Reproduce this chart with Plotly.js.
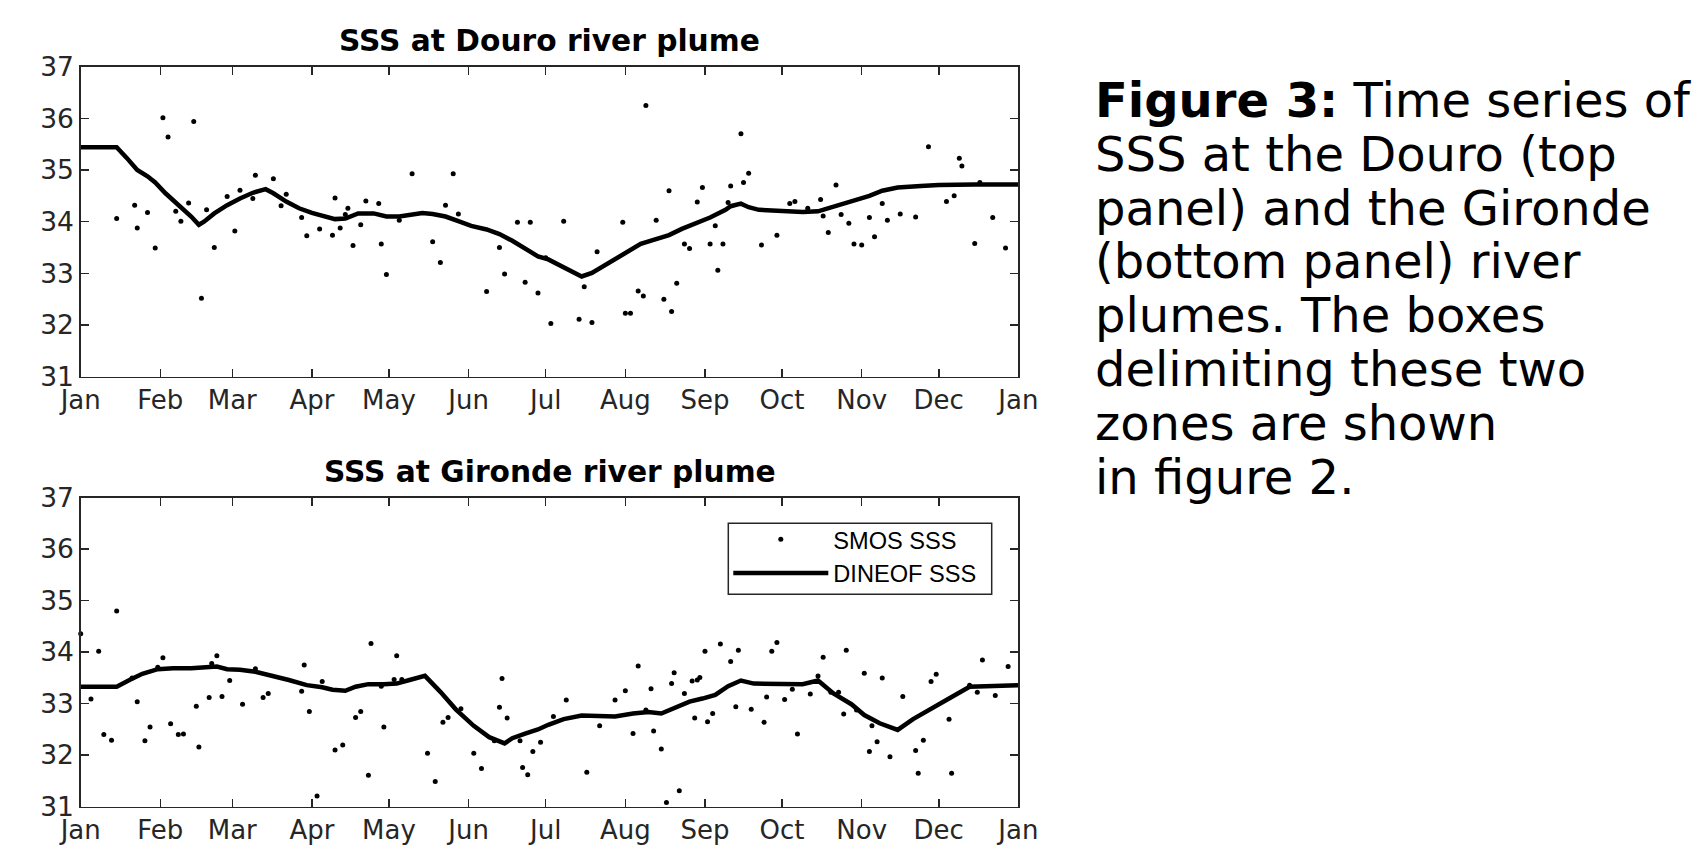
<!DOCTYPE html>
<html>
<head>
<meta charset="utf-8">
<script src="https://cdn.plot.ly/plotly-3.0.1.min.js"></script>
<style>html,body{margin:0;padding:0;background:#fff;}#chart{width:1696px;height:846px;}</style>
</head>
<body>
<div id="chart"></div>
<script>
// ---- Data (day of year, salinity) ----
const monthLabels = ['Jan','Feb','Mar','Apr','May','Jun','Jul','Aug','Sep','Oct','Nov','Dec','Jan'];

// Douro river plume – SMOS SSS (scatter)
const douroSmosDays = [14,21,22,26,29,32,34,37,39,42,44,47,49,52,57,60,62,67,68,75,
  78,80,86,88,93,98,99,101,103,104,106,109,111,116,117,119,124,129,137,140,
  142,145,147,158,163,165,170,173,175,178,181,183,188,194,196,199,201,211,212,214,
  217,219,220,224,227,229,230,232,235,237,240,242,245,247,248,250,252,253,257,258,
  260,265,271,276,278,283,288,289,291,294,296,299,301,304,307,309,312,314,319,325,
  330,337,340,342,343,348,350,355,360];
const douroSmosSSS = [34.06,34.32,33.88,34.18,33.49,36.01,35.64,34.20,34.01,34.36,
  35.94,32.52,34.23,33.50,34.49,33.82,34.61,34.45,34.90,34.83,
  34.31,34.53,34.08,33.73,33.86,33.74,34.46,33.88,34.14,34.26,
  33.54,33.94,34.40,34.35,33.57,32.98,34.03,34.93,33.61,33.21,
  34.32,34.93,34.15,32.65,33.50,32.99,33.99,32.83,33.99,32.62,
  33.30,32.03,34.01,32.11,32.74,32.05,33.42,33.99,32.23,32.23,
  32.66,32.56,36.25,34.03,32.50,34.60,32.26,32.81,33.57,33.48,
  34.38,34.66,33.57,33.92,33.06,33.57,34.37,34.69,35.70,34.76,
  34.94,33.55,33.74,34.35,34.39,34.26,34.43,34.11,33.79,34.71,
  34.14,33.97,33.57,33.55,34.08,33.71,34.35,34.03,34.15,34.09,
  35.45,34.39,34.50,35.23,35.08,33.58,34.76,34.08,33.49];

// Douro river plume – DINEOF SSS (line)
const douroDineofDays = [0,14,18,22,26,29,33,39,43,46,48,52,57,62,67,72,75,80,85,90,
  96,99,103,108,114,119,124,129,133,137,142,147,152,158,163,168,173,178,182,188,
  195,199,204,210,214,218,223,229,234,240,245,251,253,257,260,264,272,281,287,293,
  300,307,312,318,327,334,348,365];
const douroDineofSSS = [35.44,35.44,35.23,35.00,34.88,34.76,34.55,34.29,34.10,33.94,
  34.00,34.16,34.32,34.45,34.56,34.63,34.55,34.39,34.26,34.17,
  34.08,34.05,34.06,34.16,34.16,34.10,34.10,34.15,34.17,34.15,
  34.10,34.01,33.92,33.85,33.76,33.63,33.48,33.33,33.27,33.12,
  32.94,33.01,33.16,33.32,33.45,33.57,33.65,33.74,33.86,33.97,
  34.08,34.23,34.30,34.35,34.28,34.23,34.21,34.19,34.20,34.29,
  34.38,34.50,34.60,34.66,34.69,34.71,34.72,34.72];

// Gironde river plume – SMOS SSS (scatter)
const girondeSmosDays = [0,4,7,9,12,14,20,22,25,27,30,32,35,38,40,45,46,50,51,53,
  55,58,63,68,71,73,86,87,89,92,94,99,102,107,109,112,113,117,118,122,
  123,125,135,138,141,143,148,153,156,161,163,164,166,171,172,174,176,179,184,
  189,197,202,208,212,215,217,220,222,223,226,228,230,231,233,235,238,239,240,241,
  243,244,246,249,253,255,256,261,266,267,269,271,274,277,279,284,287,289,292,295,
  297,298,302,305,307,308,310,312,315,320,325,326,328,331,333,338,339,346,349,351,
  356,361];
const girondeSmosSSS = [34.36,33.09,34.02,32.40,32.29,34.80,33.50,33.04,32.28,32.55,
  33.71,33.89,32.61,32.40,32.41,32.95,32.16,33.12,33.78,33.93,
  33.14,33.45,32.99,33.68,33.12,33.20,33.24,33.75,32.85,31.21,
  33.43,32.10,32.20,32.73,32.85,31.61,34.17,33.34,32.55,33.47,
  33.93,33.47,32.04,31.49,32.64,32.73,32.90,32.04,31.74,32.28,
  32.93,33.49,32.72,32.28,31.76,31.62,32.07,32.25,32.75,
  33.07,31.67,32.57,33.07,33.25,32.42,33.73,32.88,33.29,32.47,
  32.12,31.08,33.39,33.60,31.31,33.20,33.44,32.72,33.46,33.51,
  34.02,32.65,32.81,34.16,33.82,32.94,34.04,32.89,32.64,33.13,
  34.02,34.19,33.08,33.28,32.41,33.19,33.54,33.90,33.22,33.22,
  32.80,34.04,32.88,33.59,32.07,32.57,32.26,33.50,31.97,33.14,
  32.09,31.65,32.29,33.43,33.57,32.70,31.65,33.36,33.22,33.85,
  33.16,33.72];

// Gironde river plume – DINEOF SSS (line)
const girondeDineofDays = [0,14,19,24,30,36,43,49,53,57,62,68,75,81,88,94,98,103,107,112,
  118,123,128,134,140,146,153,159,165,168,173,178,182,188,195,202,208,215,221,226,
  232,237,242,247,252,257,262,267,273,281,287,293,300,305,311,318,324,331,338,346,
  354,365];
const girondeDineofSSS = [33.33,33.33,33.46,33.58,33.67,33.69,33.69,33.71,33.72,33.67,
  33.66,33.62,33.54,33.46,33.36,33.32,33.27,33.25,33.33,33.38,
  33.38,33.39,33.46,33.54,33.23,32.89,32.57,32.35,32.23,32.33,
  32.42,32.50,32.59,32.70,32.77,32.75,32.75,32.81,32.84,32.81,
  32.94,33.04,33.10,33.17,33.34,33.45,33.39,33.39,33.39,33.38,
  33.45,33.20,32.99,32.78,32.62,32.49,32.70,32.91,33.10,33.33,
  33.34,33.36];

const panelTitles = ['SSS at Douro river plume', 'SSS at Gironde river plume'];
const seriesNames = ['SMOS SSS', 'DINEOF SSS'];
const captionLines = ['<b>Figure 3:</b> Time series of', 'SSS at the Douro (top',
  'panel) and the Gironde', '(bottom panel) river', 'plumes. The boxes',
  'delimiting these two', 'zones are shown', 'in figure 2.'];

// ---- helpers ----
const YEAR = 2013;
function toDate(d) {
  const t = Date.UTC(YEAR, 0, 1) + d * 86400000;
  return new Date(t).toISOString().slice(0, 19).replace('T', ' ');
}
const W = 1696, H = 846;
const px = v => v / W;
const py = v => 1 - v / H;

const axisColor = '#262626';
function xAxis(anchor) {
  return {
    anchor: anchor, type: 'date', domain: [px(80.7), px(1018.4)],
    range: [YEAR + '-01-01', (YEAR + 1) + '-01-01'],
    tick0: YEAR + '-01-01', dtick: 'M1', tickformat: '%b',
    ticks: 'inside', ticklen: 8, tickwidth: 1.5, tickcolor: axisColor,
    showline: true, linecolor: axisColor, linewidth: 1.5, mirror: 'ticks',
    showgrid: false, zeroline: false,
    tickfont: {family: 'DejaVu Sans', size: 26, color: axisColor}
  };
}
function yAxis(anchor, top, bottom) {
  return {
    anchor: anchor, domain: [py(bottom), py(top)], range: [31, 37], dtick: 1,
    ticks: 'inside', ticklen: 8, tickwidth: 1.5, tickcolor: axisColor,
    showline: true, linecolor: axisColor, linewidth: 1.5, mirror: 'ticks',
    showgrid: false, zeroline: false,
    tickfont: {family: 'DejaVu Sans', size: 26.5, color: axisColor}
  };
}

const traces = [
  {x: douroSmosDays.map(toDate), y: douroSmosSSS, xaxis: 'x', yaxis: 'y', type: 'scatter',
   mode: 'markers', marker: {size: 5, color: '#000'}, name: seriesNames[0], showlegend: false, cliponaxis: false},
  {x: douroDineofDays.map(toDate), y: douroDineofSSS, xaxis: 'x', yaxis: 'y', type: 'scatter',
   mode: 'lines', line: {color: '#000', width: 4.5}, name: seriesNames[1], showlegend: false},
  {x: girondeSmosDays.map(toDate), y: girondeSmosSSS, xaxis: 'x2', yaxis: 'y2', type: 'scatter',
   mode: 'markers', marker: {size: 5, color: '#000'}, name: seriesNames[0], showlegend: true, cliponaxis: false},
  {x: girondeDineofDays.map(toDate), y: girondeDineofSSS, xaxis: 'x2', yaxis: 'y2', type: 'scatter',
   mode: 'lines', line: {color: '#000', width: 4.5}, name: seriesNames[1], showlegend: true}
];

const cx = px((80.7 + 1018.4) / 2);
const annotations = [
  {text: '<b>' + panelTitles[0] + '</b>', xref: 'paper', yref: 'paper', x: cx, y: py(60),
   xanchor: 'center', yanchor: 'bottom', showarrow: false,
   font: {family: 'DejaVu Sans', size: 29.7, color: '#000'}},
  {text: '<b>' + panelTitles[1] + '</b>', xref: 'paper', yref: 'paper', x: cx, y: py(490.5),
   xanchor: 'center', yanchor: 'bottom', showarrow: false,
   font: {family: 'DejaVu Sans', size: 29.7, color: '#000'}}
];
captionLines.forEach((line, i) => {
  annotations.push({text: line, xref: 'paper', yref: 'paper', x: px(1093), y: py(70 + i * 53.8),
    xanchor: 'left', yanchor: 'top', align: 'left', showarrow: false,
    font: {family: 'DejaVu Sans', size: 48, color: '#000'}});
});

const layout = {
  width: W, height: H,
  margin: {l: 0, r: 0, t: 0, b: 0},
  paper_bgcolor: '#fff', plot_bgcolor: '#fff',
  xaxis: xAxis('y'), yaxis: yAxis('x', 66.7, 376.7),
  xaxis2: xAxis('y2'), yaxis2: yAxis('x2', 497.7, 806.7),
  showlegend: true,
  legend: {
    x: px(728.3), y: py(517.5), xanchor: 'left', yanchor: 'top',
    bgcolor: 'rgba(255,255,255,0)', borderwidth: 0,
    font: {family: 'Liberation Sans', size: 23.6, color: '#000'},
    itemwidth: 95, tracegroupgap: 0
  },
  shapes: [
    // legend frame
    {type: 'rect', xref: 'paper', yref: 'paper', layer: 'above',
     x0: px(728.3), x1: px(991.7), y0: py(594.3), y1: py(523.3),
     fillcolor: '#fff', line: {color: axisColor, width: 1.5}}
  ],
  annotations: annotations
};

Plotly.newPlot('chart', traces, layout, {displayModeBar: false, staticPlot: true});
</script>
</body>
</html>
